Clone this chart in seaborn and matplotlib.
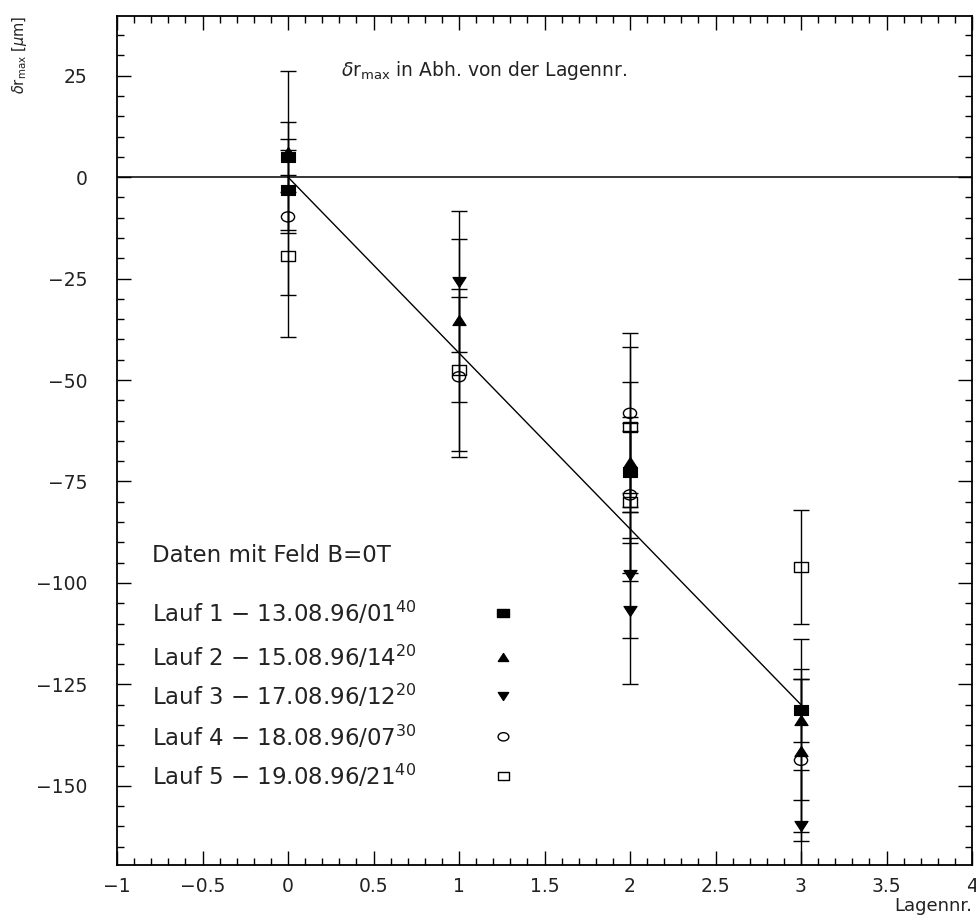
import numpy as np
import pandas as pd
import matplotlib
matplotlib.use("Agg")
import matplotlib.pyplot as plt
from matplotlib.path import Path
from matplotlib.markers import MarkerStyle
from matplotlib.ticker import MultipleLocator, FuncFormatter
import seaborn as sns

# ---------------- data ----------------
series_names = ["Lauf 1", "Lauf 2", "Lauf 3", "Lauf 4", "Lauf 5"]
series_dates = ["13.08.96/01", "15.08.96/14", "17.08.96/12", "18.08.96/07", "19.08.96/21"]
series_times = ["40", "20", "20", "30", "40"]

lauf1_x = [0, 0, 2, 3]
lauf1_y = [5.0, -3.2, -72.6, -131.4]
lauf1_err = [8.7, 9.8, 10.0, 7.8]

lauf2_x = [0, 1, 2, 3, 3]
lauf2_y = [6.2, -35.3, -70.3, -133.7, -141.3]
lauf2_err = [20.0, 20.0, 19.9, 19.9, 20.0]

lauf3_x = [1, 2, 2, 3]
lauf3_y = [-25.8, -98.0, -107.0, -160.0]
lauf3_err = [17.4, 15.5, 18.0, 14.0]

lauf4_x = [0, 1, 2, 2, 3]
lauf4_y = [-9.8, -49.2, -58.2, -78.3, -143.7]
lauf4_err = [19.2, 19.7, 19.7, 19.3, 20.0]

lauf5_x = [0, 1, 2, 2, 3]
lauf5_y = [-19.4, -47.5, -61.5, -80.0, -96.0]
lauf5_err = [20.0, 20.0, 19.7, 19.5, 14.0]

fit_x = [0, 3]
fit_y = [0.0, -130.0]

x_ticks = [-1, -0.5, 0, 0.5, 1, 1.5, 2, 2.5, 3, 3.5, 4]
y_ticks = [25, 0, -25, -50, -75, -100, -125, -150]

# ---------------- figure ----------------
sns.set_theme(style="ticks")
plt.rcParams["font.family"] = ["DejaVu Sans"]
plt.rcParams["mathtext.fontset"] = "dejavusans"

fig = plt.figure(figsize=(9.76, 9.18), dpi=100)
ax = fig.add_axes([117 / 976, 1 - 865 / 918, 855 / 976, 849 / 918])

# custom marker shapes (wider than tall, like the original)
rect = Path([(-1.3, -1), (1.3, -1), (1.3, 1), (-1.3, 1), (-1.3, -1)],
            [Path.MOVETO, Path.LINETO, Path.LINETO, Path.LINETO, Path.CLOSEPOLY])
tri_up = Path([(-1.3, -1), (1.3, -1), (0, 1), (-1.3, -1)],
              [Path.MOVETO, Path.LINETO, Path.LINETO, Path.CLOSEPOLY])
tri_dn = Path([(-1.3, 1), (1.3, 1), (0, -1), (-1.3, 1)],
              [Path.MOVETO, Path.LINETO, Path.LINETO, Path.CLOSEPOLY])
circ = Path.unit_circle()
ell = Path(circ.vertices * np.array([1.3, 1.0]), circ.codes)

markers = [rect, tri_up, tri_dn, ell, rect]
filled = [True, True, True, False, False]

xs = [lauf1_x, lauf2_x, lauf3_x, lauf4_x, lauf5_x]
ys = [lauf1_y, lauf2_y, lauf3_y, lauf4_y, lauf5_y]
es = [lauf1_err, lauf2_err, lauf3_err, lauf4_err, lauf5_err]

frames = []
for name, x, y, e in zip(series_names, xs, ys, es):
    frames.append(pd.DataFrame({"lauf": name, "x": x, "y": y, "err": e}))
df = pd.concat(frames, ignore_index=True)

# reference lines
ax.axhline(0, color="black", lw=1.1, zorder=1)
sns.lineplot(x=fit_x, y=fit_y, ax=ax, color="black", lw=1.0, zorder=2)

# error bars
ax.errorbar(df["x"], df["y"], yerr=df["err"], fmt="none", ecolor="black",
            elinewidth=1.0, capsize=5.8, capthick=1.0, zorder=3)

# markers
for name, m, f in zip(series_names, markers, filled):
    sub = df[df["lauf"] == name]
    if f:
        sns.scatterplot(data=sub, x="x", y="y", ax=ax, marker=MarkerStyle(m),
                        s=90, color="black", edgecolor="black", linewidth=0.8,
                        zorder=4, legend=False)
    else:
        sns.scatterplot(data=sub, x="x", y="y", ax=ax, marker=MarkerStyle(m),
                        s=90, facecolor="none", edgecolor="black", linewidth=1.0,
                        zorder=4, legend=False)

# axes
ax.set_xlim(-1, 4)
ax.set_ylim(-169.5, 39.7)
ax.set_xticks(x_ticks)
ax.set_yticks(y_ticks)
ax.xaxis.set_minor_locator(MultipleLocator(0.1))
ax.yaxis.set_minor_locator(MultipleLocator(5))


def fmt(v, pos):
    s = ("%g" % v)
    return s.replace("-", "\u2212")


ax.xaxis.set_major_formatter(FuncFormatter(fmt))
ax.yaxis.set_major_formatter(FuncFormatter(fmt))
ax.tick_params(which="both", direction="in", top=True, right=True,
               color="black", width=1.0)
ax.tick_params(which="major", length=10, labelsize=13.5, pad=9, labelcolor="#222222")
ax.tick_params(which="minor", length=5)
ax.tick_params(axis="y", which="major", pad=21)
for sp in ax.spines.values():
    sp.set_linewidth(1.3)
    sp.set_color("black")
ax.set_xlabel("")
ax.set_ylabel("")

# labels
fig.text(0.996, 0.003, "Lagennr.", ha="right", va="bottom", fontsize=13, color="#222222")
fig.text(0.02, 0.983, r"$\delta$r$_{\rm max}$ [$\mu$m]", rotation=90,
         ha="center", va="top", fontsize=10.5, color="#222222")
ax.text(0.429, 0.936, r"$\delta$r$_{\rm max}$ in Abh. von der Lagennr.",
        transform=ax.transAxes, ha="center", va="center", fontsize=13.5, color="#222222")

# legend-like block
ax.text(0.041, 0.364, "Daten mit Feld B=0T", transform=ax.transAxes,
        ha="left", va="center", fontsize=16.5, color="#222222")
leg_y = [0.297, 0.245, 0.199, 0.151, 0.105]
for i, (name, d, t) in enumerate(zip(series_names, series_dates, series_times)):
    ax.text(0.041, leg_y[i], f"{name} \u2212 {d}$^{{{t}}}$", transform=ax.transAxes,
            ha="left", va="center", fontsize=16.5, color="#222222")
    if filled[i]:
        ax.scatter([0.452], [leg_y[i]], transform=ax.transAxes, marker=MarkerStyle(markers[i]),
                   s=70 if i == 0 else 55, color="black", zorder=5)
    else:
        ax.scatter([0.452], [leg_y[i]], transform=ax.transAxes, marker=MarkerStyle(markers[i]),
                   s=60, facecolor="none", edgecolor="black", linewidth=1.0, zorder=5)

fig.savefig("out.png", dpi=100)
